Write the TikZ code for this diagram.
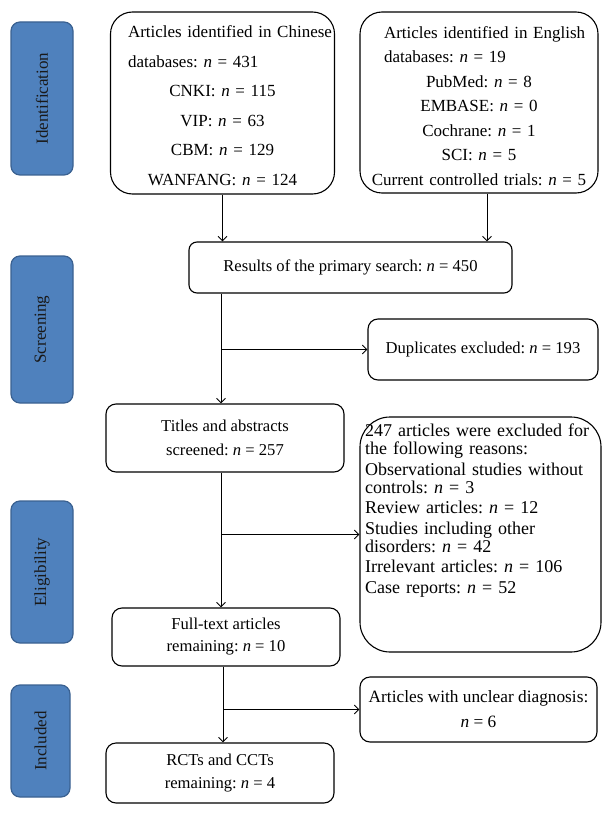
\documentclass[tikz,border=0pt]{standalone}
\usepackage{fontspec}
\setmainfont{Liberation Serif}
\usetikzlibrary{arrows.meta}
\definecolor{stagefill}{HTML}{4F81BD}
\definecolor{stageline}{HTML}{3A6191}
\newcommand{\nn}{\textit{n}}
\frenchspacing
\begin{document}
\begin{tikzpicture}[x=1pt,y=-1pt,
  box/.style={draw=black, line width=1.1pt, rounded corners=#1, inner sep=0pt, align=center},
  box/.default=10pt,
  stage/.style={draw=stageline, fill=stagefill, line width=1.2pt, rounded corners=9pt, inner sep=0pt,
    rotate=90, text=black!90, font=\fontsize{17pt}{20pt}\selectfont},
  fa/.style={font=\fontsize{16.6pt}{#1}\selectfont},
  fa/.default=23pt,
  arr/.style={draw=black, line width=0.9pt, -{Straight Barb[length=4.5pt,width=9pt,line width=0.9pt]}}]
\useasboundingbox (0,0) rectangle (611,813);

% stage labels
\node[stage, minimum width=153pt, minimum height=62pt] (sid) at (42,98.5) {Identification};
\node[stage, minimum width=147pt, minimum height=62pt] (ssc) at (42,329.5) {Screening};
\node[stage, minimum width=142pt, minimum height=62pt] (sel) at (42,572) {Eligibility};
\node[stage, minimum width=112pt, minimum height=59pt] (sin) at (40.5,741) {Included};

% boxes
\node[box=22pt, minimum width=221pt, minimum height=182pt, text width=224pt, align=left,
  font=\fontsize{17pt}{29.5pt}\selectfont] (chin) at (222.5,103)
  {\hspace*{17.5pt}\rule{0pt}{17.5pt}Articles identified in Chinese\\
   \hspace*{17.5pt}databases: \nn{} = 431\par
   {\centering CNKI: \nn{} = 115\\ VIP: \nn{} = 63\\ CBM: \nn{} = 129\\ WANFANG: \nn{} = 124\par}};

\node[box=22pt, minimum width=238pt, minimum height=181pt, text width=226pt, align=left,
  font=\fontsize{17pt}{24.5pt}\selectfont] (eng) at (479,102.5)
  {\hspace*{18pt}\rule{0pt}{18.5pt}Articles identified in English\\
   \hspace*{18pt}databases: \nn{} = 19\par
   {\centering PubMed: \nn{} = 8\\ EMBASE: \nn{} = 0\\ Cochrane: \nn{} = 1\\ SCI: \nn{} = 5\\ Current controlled trials: \nn{} = 5\par}};

\node[box=8pt, minimum width=323pt, minimum height=51pt, fa] (res) at (350.5,267.5)
  {Results of the primary search: \nn{} = 450};
\node[box=10pt, minimum width=230pt, minimum height=61pt, fa] (dup) at (483,349.5)
  {Duplicates excluded: \nn{} = 193};
\node[box=10pt, minimum width=238pt, minimum height=68pt, fa=24pt] (tit) at (225,438)
  {Titles and abstracts\\ screened: \nn{} = 257};
\node[box=30pt, minimum width=241pt, minimum height=235pt] (excl) at (480.5,534.5) {};
\node[anchor=north west, inner sep=0pt, text width=234pt, align=left,
  font=\fontsize{18pt}{18pt}\selectfont] (excltext) at (365,424)
  {\setlength{\parskip}{2.5pt}%
   247 articles were excluded for\\ the following reasons:\par
   Observational studies without\\ controls: \nn{} = 3\par
   Review articles: \nn{} = 12\par
   Studies including other\\ disorders: \nn{} = 42\par
   Irrelevant articles: \nn{} = 106\par
   Case reports: \nn{} = 52\par};
\node[box=10pt, minimum width=228pt, minimum height=58pt, fa=22pt] (full) at (226,637)
  {Full-text articles\\ remaining: \nn{} = 10};
\node[box=10pt, minimum width=237pt, minimum height=65pt, font=\fontsize{17.3pt}{25pt}\selectfont] (uncl) at (478.5,709.5)
  {Articles with unclear diagnosis:\\ \nn{} = 6};
\node[box=10pt, minimum width=228pt, minimum height=60pt, fa=23pt] (fin) at (220,773)
  {RCTs and CCTs\\ remaining: \nn{} = 4};

% connectors
\coordinate (engout) at ([xshift=8pt]eng.south);
\coordinate (spine) at (221,0);
\coordinate (spinetwo) at (223,0);
\draw[arr] (chin.south) -- (chin.south |- res.north);
\draw[arr] (engout) -- (engout |- res.north);
\draw[arr] (res.south -| spine) -- (tit.north -| spine);
\draw[arr] (spine |- dup.west) -- (dup.west);
\draw[arr] (tit.south -| spine) -- (full.north -| spine);
\draw[arr] (spine |- excl.west) -- (excl.west);
\draw[arr] (full.south -| spinetwo) -- (fin.north -| spinetwo);
\draw[arr] (spinetwo |- uncl.west) -- (uncl.west);
\end{tikzpicture}
\end{document}
